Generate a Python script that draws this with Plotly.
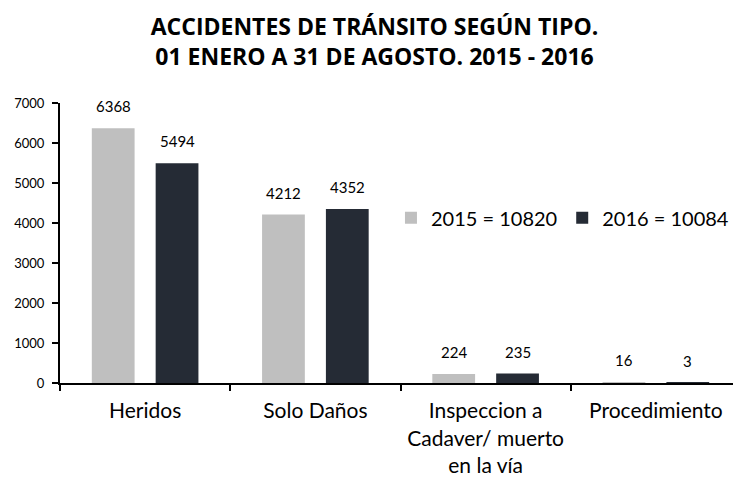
import plotly.graph_objects as go

categories = ["Heridos", "Solo Daños", "Inspeccion a<br>Cadaver/ muerto<br>en la vía", "Procedimiento"]
values_2015 = [6368, 4212, 224, 16]
values_2016 = [5494, 4352, 235, 3]
series_names = ["2015 = 10820", "2016 = 10084"]
y_ticks = [0, 1000, 2000, 3000, 4000, 5000, 6000, 7000]

FONT = "Lato"
COLORS = ["#BFBFBF", "#252B35"]
LABEL_LIFT = 22      # px above the bar top
GROUP_SHIFT = [-32, 32]  # px horizontal offset of each series in its group

fig = go.Figure()
for name, vals, col in zip(series_names, [values_2015, values_2016], COLORS):
    fig.add_trace(go.Bar(x=categories, y=vals, name=name, marker_color=col,
                         marker_line_width=0))

annotations = []
for vals, dx in zip([values_2015, values_2016], GROUP_SHIFT):
    for cat, v in zip(categories, vals):
        annotations.append(dict(x=cat, y=v, xref="x", yref="y", text=str(v),
                                showarrow=False, xshift=dx, yshift=LABEL_LIFT,
                                yanchor="middle", xanchor="center",
                                font=dict(family=FONT, size=15, color="#000000")))

fig.update_layout(
    width=733, height=475,
    margin=dict(l=52, r=0, t=95, b=100),
    paper_bgcolor="white", plot_bgcolor="white",
    font=dict(family=FONT, color="#000000"),
    annotations=annotations,
    title=dict(text="<b>ACCIDENTES DE TRÁNSITO SEGÚN TIPO.<br>01 ENERO A 31 DE AGOSTO. 2015 - 2016</b>",
               x=0.5, xanchor="center", y=0.943, yanchor="middle",
               font=dict(family="Open Sans", size=23, color="#000000")),
    barmode="group", bargap=0.25, bargroupgap=0.33,
    legend=dict(orientation="h", x=0.486, y=0.59, xanchor="left", yanchor="middle",
                font=dict(family=FONT, size=20), bgcolor="rgba(0,0,0,0)",
                traceorder="normal"),
    xaxis=dict(showline=True, linecolor="#000000", linewidth=2, ticks="outside",
               tickson="boundaries", ticklen=6, tickwidth=2, tickcolor="#000000",
               tickfont=dict(size=21), showgrid=False, ticklabelstandoff=8),
    yaxis=dict(range=[0, 7000], tickvals=y_ticks, showline=True, linecolor="#000000",
               linewidth=2, ticks="outside", ticklen=6, tickwidth=2, tickcolor="#000000",
               tickfont=dict(size=13), showgrid=False, zeroline=False,
               ticklabelstandoff=5),
)
fig.write_html("out.html")
